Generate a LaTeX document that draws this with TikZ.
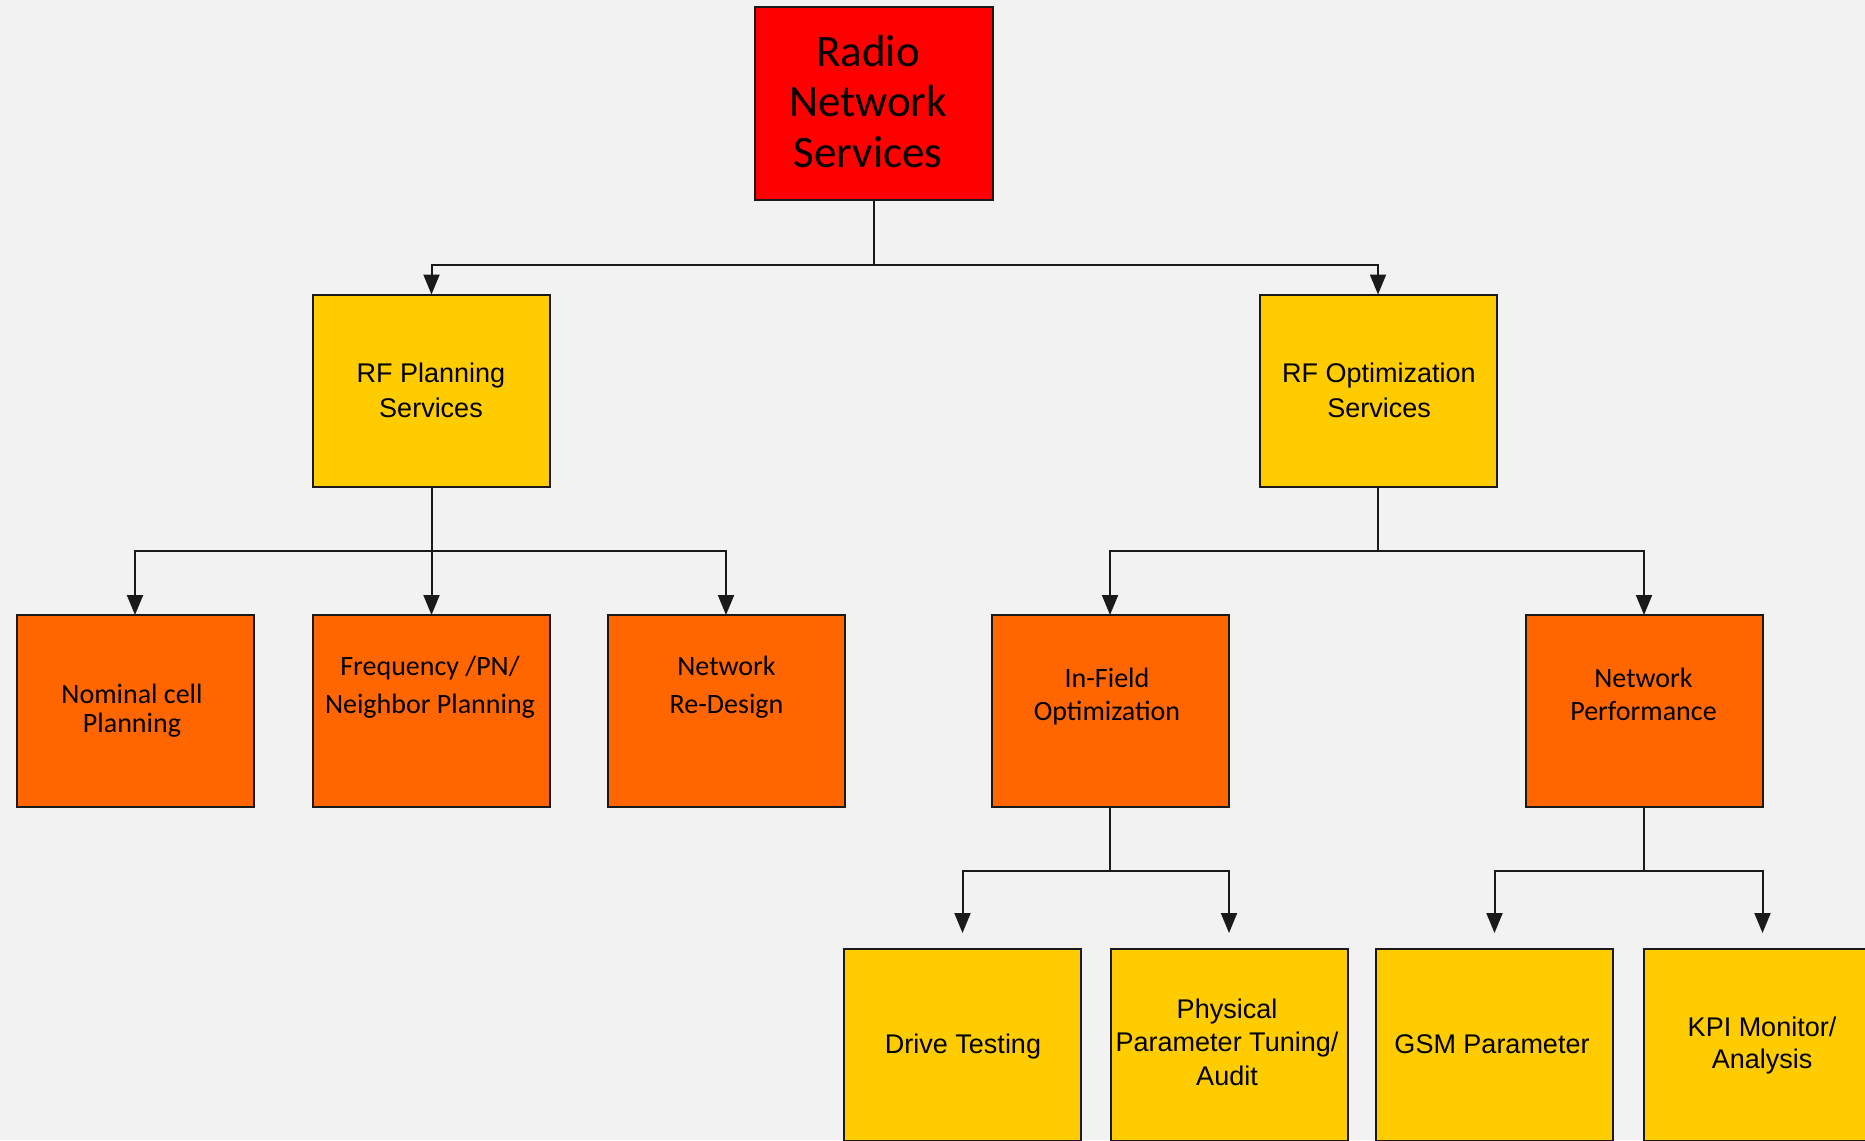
\documentclass[tikz,border=0pt]{standalone}
\usepackage{fontspec}
\newfontfamily\calib{Carlito}
\newfontfamily\arialf{Liberation Sans}
\usetikzlibrary{arrows.meta}
\definecolor{bg}{HTML}{F2F2F2}
\definecolor{redbox}{HTML}{FF0000}
\definecolor{yelbox}{HTML}{FFCC00}
\definecolor{orgbox}{HTML}{FF6600}
\definecolor{edge}{HTML}{1A1A1A}
\begin{document}
\begin{tikzpicture}[x=1pt, y=-1pt,
  box/.style={draw=edge, line width=2pt, minimum width=237pt, minimum height=192pt, inner sep=0pt, outer sep=0pt},
  txt/.style={inner sep=0pt, outer sep=0pt, align=center, text=black},
  rootfont/.style={font=\calib\fontsize{45}{50.5}\selectfont},
  lonefont/.style={font=\arialf\fontsize{27}{35}\selectfont},
  ltwofont/.style={font=\calib\fontsize{28}{#1}\selectfont},
  lthreefont/.style={font=\arialf\fontsize{27}{#1}\selectfont},
  wire/.style={draw=edge, line width=2pt},
  arr/.style={wire, -{Triangle[length=20pt,width=16pt]}},
  gaparr/.style={arr, shorten >=16pt}
]
\path[use as bounding box, fill=bg] (0,0) rectangle (1865,1140);
\clip (0,0) rectangle (1865,1140);

% boxes
\node[box, fill=redbox, minimum width=238pt, minimum height=193pt] (root) at (874,103.5) {};
\node[box, fill=yelbox] (rfp) at (431.5,390.5) {};
\node[box, fill=yelbox] (rfo) at (1378,390.5) {};
\node[box, fill=orgbox] (nom) at (135,711) {};
\node[box, fill=orgbox] (freq) at (431.5,711) {};
\node[box, fill=orgbox] (redes) at (726,711) {};
\node[box, fill=orgbox] (infield) at (1110,711) {};
\node[box, fill=orgbox] (netperf) at (1644,711) {};
\node[box, fill=yelbox] (drive) at (962.5,1045) {};
\node[box, fill=yelbox] (phys) at (1229,1045) {};
\node[box, fill=yelbox] (gsm) at (1494.5,1045) {};
\node[box, fill=yelbox] (kpi) at (1762.5,1045) {};

% texts
\node[txt, rootfont] (roottxt) at (868,106.4) {\strut Radio\\\strut Network\\\strut Services};
\node[txt, lonefont] (rfptxt) at (431,392.5) {\strut RF Planning\\\strut Services};
\node[txt, lonefont] (rfotxt) at (1379,392.5) {\strut RF Optimization\\\strut Services};
\node[txt, ltwofont=29] (nomtxt) at (132,711.7) {\strut Nominal cell\\\strut Planning};
\node[txt, ltwofont=38] (freqtxt) at (430,686.4) {\strut Frequency /PN/\\\strut Neighbor Planning};
\node[txt, ltwofont=38] (redestxt) at (726.5,686.4) {\strut Network\\\strut Re-Design};
\node[txt, ltwofont=33] (infieldtxt) at (1107,696.9) {\strut In-Field\\\strut Optimization};
\node[txt, ltwofont=33] (netperftxt) at (1643.5,696.9) {\strut Network\\\strut Performance};
\node[txt, lthreefont=33] (drivetxt) at (963,1046.4) {\strut Drive Testing};
\node[txt, lthreefont=33.5] (phystxt) at (1227,1044.8) {\strut Physical\\\strut Parameter Tuning/\\\strut Audit};
\node[txt, lthreefont=33] (gsmtxt) at (1492,1046.4) {\strut GSM Parameter};
\node[txt, lthreefont=32] (kpitxt) at (1762,1045.6) {\strut KPI Monitor/\\\strut Analysis};

% junction levels
\coordinate (j0) at (0,265);
\coordinate (j1) at (0,551);
\coordinate (j2) at (0,871);

% connectors
\draw[arr] (root.south) -- (root.south |- j0) -| (rfp.north);
\draw[arr] (root.south |- j0) -| (rfo.north);

\draw[arr] (rfp.south) -- (rfp.south |- j1) -| (nom.north);
\draw[arr] (rfp.south) -- (freq.north);
\draw[arr] (rfp.south |- j1) -| (redes.north);

\draw[arr] (rfo.south) -- (rfo.south |- j1) -| (infield.north);
\draw[arr] (rfo.south |- j1) -| (netperf.north);

\draw[gaparr] (infield.south) -- (infield.south |- j2) -| (drive.north);
\draw[gaparr] (infield.south |- j2) -| (phys.north);

\draw[gaparr] (netperf.south) -- (netperf.south |- j2) -| (gsm.north);
\draw[gaparr] (netperf.south |- j2) -| (kpi.north);
\end{tikzpicture}
\end{document}
